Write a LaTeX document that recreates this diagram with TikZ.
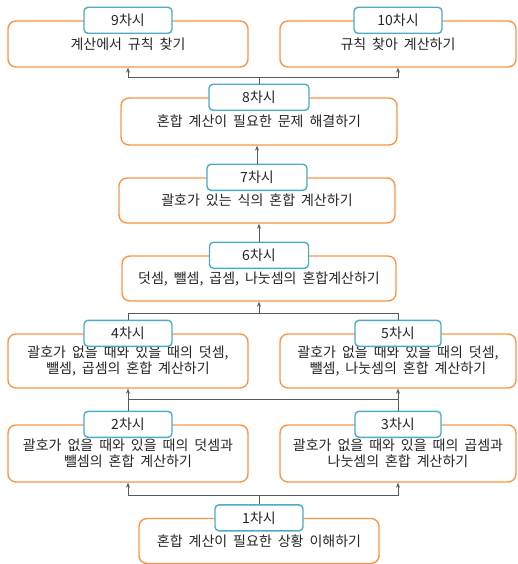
\documentclass[tikz,border=0pt]{standalone}
\usepackage{fontspec}
\setmainfont{Noto Sans CJK KR}[WordSpace=1.9]
\usetikzlibrary{arrows.meta}
\definecolor{boxorange}{HTML}{F79646}
\definecolor{labelblue}{HTML}{4BACC6}
\definecolor{txt}{HTML}{262626}
\definecolor{conn}{HTML}{595959}
\tikzset{
  mainbox/.style={draw=boxorange, line width=1.4pt, rounded corners=8pt, fill=white,
    align=center, inner sep=0pt, text=txt, font=\fontsize{14}{15.5}\selectfont},
  lbl/.style={draw=labelblue, line width=1.4pt, rounded corners=4pt, fill=white,
    minimum height=26pt, inner sep=0pt, text=txt, font=\fontsize{14}{15.5}\selectfont},
  conline/.style={draw=conn, line width=0.9pt},
  arr/.style={conline, -{Stealth[length=5pt,width=4pt]}}
}
\begin{document}
\begin{tikzpicture}[x=1pt,y=-1pt]
\useasboundingbox (0,0) rectangle (517,564);
% boxes
\node[mainbox, minimum width=240pt, minimum height=46pt] (b9) at (128,44) {계산에서 규칙 찾기};
\node[mainbox, minimum width=236pt, minimum height=46pt] (b10) at (398,44) {규칙 찾아 계산하기};
\node[mainbox, minimum width=276pt, minimum height=47pt] (b8) at (259,121.5) {혼합 계산이 필요한 문제 해결하기};
\node[mainbox, minimum width=276pt, minimum height=45pt] (b7) at (257,200.5) {괄호가 있는 식의 혼합 계산하기};
\node[mainbox, minimum width=274pt, minimum height=45pt] (b6) at (259,278.5) {덧셈, 뺄셈, 곱셈, 나눗셈의 혼합계산하기};
\node[mainbox, minimum width=240pt, minimum height=54pt] (b4) at (128,361) {괄호가 없을 때와 있을 때의 덧셈,\\뺄셈, 곱셈의 혼합 계산하기};
\node[mainbox, minimum width=236pt, minimum height=54pt] (b5) at (398,361) {괄호가 없을 때와 있을 때의 덧셈,\\뺄셈, 나눗셈의 혼합 계산하기};
\node[mainbox, minimum width=240pt, minimum height=57pt] (b2) at (128,453.5) {괄호가 없을 때와 있을 때의 덧셈과\\뺄셈의 혼합 계산하기};
\node[mainbox, minimum width=236pt, minimum height=57pt] (b3) at (398,453.5) {괄호가 없을 때와 있을 때의 곱셈과\\나눗셈의 혼합 계산하기};
\node[mainbox, minimum width=240pt, minimum height=45pt] (b1) at (259,541) {혼합 계산이 필요한 상황 이해하기};
% labels
\node[lbl, minimum width=88pt] (l9) at (b9.north) {9차시};
\node[lbl, minimum width=88pt] (l10) at (b10.north) {10차시};
\node[lbl, minimum width=100pt] (l8) at (b8.north) {8차시};
\node[lbl, minimum width=100pt] (l7) at (b7.north) {7차시};
\node[lbl, minimum width=99pt] (l6) at (b6.north) {6차시};
\node[lbl, minimum width=88pt] (l4) at (b4.north) {4차시};
\node[lbl, minimum width=86pt] (l5) at (b5.north) {5차시};
\node[lbl, minimum width=88pt] (l2) at (b2.north) {2차시};
\node[lbl, minimum width=86pt] (l3) at (b3.north) {3차시};
\node[lbl, minimum width=88pt] (l1) at (b1.north) {1차시};
% junction coordinates
\coordinate (j8) at (259,77);
\coordinate (j45) at (259,313);
\coordinate (j23) at (259,399);
\coordinate (j1) at (259,495);
% connectors
\draw[conline] (l8.north) -- (j8);
\draw[arr] (j8) -| (b9.south);
\draw[arr] (j8) -| (b10.south);
\draw[arr] (l7.north) -- (l7.north |- b8.south);
\draw[arr] (l6.north) -- (l6.north |- b7.south);
\draw[conline] (l4.north) |- (j45);
\draw[conline] (l5.north) |- (j45);
\draw[arr] (j45) -- (b6.south);
\draw[arr] (l2.north) -- (b4.south);
\draw[arr] (l3.north) -- (b5.south);
\draw[conline] (l2.north |- j23) -- (l3.north |- j23);
\draw[conline] (l1.north) -- (j1);
\draw[arr] (j1) -| (b2.south);
\draw[arr] (j1) -| (b3.south);
\end{tikzpicture}
\end{document}
